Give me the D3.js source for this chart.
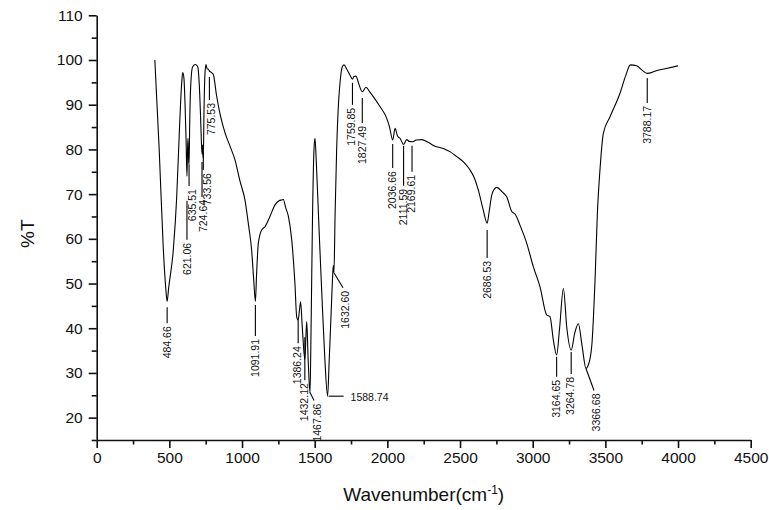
<!DOCTYPE html>
<html>
<head>
<meta charset="utf-8">
<script src="https://cdn.jsdelivr.net/npm/d3@7"></script>
<style>
  html, body { margin: 0; padding: 0; background: #fff; }
  svg { display: block; font-family: "Liberation Sans", Arial, sans-serif; }
</style>
</head>
<body>
<svg id="chart" width="769" height="510"></svg>
<script>
// FTIR transmittance spectrum
const wavenumber = [
  400, 430, 458, 475, 484.66, 495, 527, 550, 570, 585, 592, 600, 608, 615, 621.06, 625, 628, 632, 635.51, 640,
  648, 660, 680, 695, 705, 714, 720, 724.64, 728, 731, 733.56, 738, 745, 752, 760, 767, 775.53, 790, 802, 825,
  848, 883, 920, 952, 985, 1020, 1045, 1066, 1080, 1091.91, 1100, 1112, 1135, 1158, 1192, 1227, 1255, 1273, 1284, 1300,
  1319, 1342, 1364, 1376, 1386.24, 1395, 1403, 1415, 1432.12, 1445, 1455, 1467.86, 1475, 1485, 1495, 1502, 1510, 1530, 1550, 1570,
  1588.74, 1600, 1615, 1624, 1628, 1632.6, 1640, 1651, 1665, 1674, 1690, 1702, 1720, 1743, 1759.85, 1770, 1784, 1800, 1827.49, 1853,
  1880, 1903, 1949, 1995, 2015, 2036.66, 2053, 2070, 2087, 2111.59, 2133, 2150, 2169.61, 2200, 2236, 2280, 2316, 2385, 2430, 2477,
  2530, 2569, 2600, 2626, 2660, 2686.53, 2700, 2720, 2752, 2790, 2821, 2856, 2880, 2913, 2959, 3004, 3050, 3096, 3119, 3142,
  3164.65, 3185, 3211, 3235, 3264.78, 3290, 3314, 3340, 3366.68, 3383, 3406, 3429, 3445, 3463, 3486, 3532, 3600, 3640, 3672, 3716,
  3750, 3788.17, 3850, 3920, 4000
];
const transmittance = [
  100, 80, 58, 49, 46, 49, 57.5, 69, 85, 95, 97.2, 96, 90, 82, 74, 80, 82.5, 78, 76.5, 86,
  95, 98.5, 99, 98.5, 95, 88, 82, 79, 81, 79, 78, 88, 97, 99, 98, 98, 97.5, 97.2, 96.8, 92,
  88, 83.7, 80.5, 77.6, 73, 68.7, 63, 57.5, 51, 46, 52, 59, 62, 62.7, 65, 67.6, 68.5, 68.7, 68.8, 67,
  65, 59.7, 50, 42.6, 41.8, 44, 45.9, 40, 33, 41.5, 33, 25.5, 40, 65, 80, 82.5, 78, 62, 47, 33,
  24.8, 33, 45, 52, 54, 52.5, 65, 80, 91, 94.8, 98.5, 98.9, 98, 96.6, 95.7, 96.3, 96.4, 95, 92.9, 93.9,
  92.8, 91.8, 89.6, 87, 85, 82.1, 84.7, 83, 82.5, 81.1, 82.2, 81.8, 81.7, 82.1, 82.2, 81.6, 80.9, 80.2, 79.5, 78.4,
  77, 75.4, 73.5, 70.9, 66.4, 63.5, 66, 70, 71.5, 70.5, 69.4, 66.1, 65.5, 63, 59, 53.8, 49.3, 43, 42.6, 37.4,
  34, 40, 48.9, 40, 35.1, 39, 41, 36, 31, 31.8, 35.9, 50.8, 65.7, 75.5, 83.6, 87.3, 92.5, 96.5, 98.9, 98.7,
  97.8, 97, 97.6, 98.1, 98.7
];

// Axis ticks
const xTicks = [0, 500, 1000, 1500, 2000, 2500, 3000, 3500, 4000, 4500];
const xMinorTicks = [250, 750, 1250, 1750, 2250, 2750, 3250, 3750, 4250];
const yTicks = [20, 30, 40, 50, 60, 70, 80, 90, 100, 110];
const yMinorTicks = [15, 25, 35, 45, 55, 65, 75, 85, 95, 105];

// Labelled peaks (cm-1)
const peakPositions = [
  484.66, 621.06, 635.51, 724.64, 733.56, 775.53, 1091.91, 1386.24, 1432.12, 1467.86,
  1588.74, 1632.60, 1759.85, 1827.49, 2036.66, 2111.59, 2169.61, 2686.53, 3164.65, 3264.78,
  3366.68, 3788.17
];
// Leader line for each peak label: start level (%T), length (px), text shift (px), style
const peakLayout = [
  { top: 44.7, len: 16, dx: 0 },
  { top: 68.5, len: 39, dx: 0 },
  { top: 76.5, len: 21, dx: 3 },
  { top: 77.2, len: 35, dx: 1 },
  { top: 79.4, len: 18, dx: 4 },
  { top: 96.2, len: 23, dx: 2 },
  { top: 45.2, len: 31, dx: 0 },
  { top: 41.8, len: 23, dx: -1 },
  { top: 38.0, len: 43, dx: -1 },
  { kind: "diag", top: 25.6, ddx: 4, ddy: 8, dx: 3 },
  { kind: "horiz", top: 24.8, len: 15 },
  { kind: "diag", top: 52.4, ddx: 9, ddy: 15, dx: 2 },
  { top: 94.9, len: 22, dx: -1 },
  { top: 91.5, len: 25, dx: 0 },
  { top: 81.2, len: 24, dx: -1 },
  { top: 80.8, len: 40, dx: -1 },
  { top: 80.8, len: 26, dx: -1 },
  { top: 62.0, len: 28, dx: 0 },
  { top: 33.6, len: 20, dx: -1 },
  { top: 34.7, len: 22, dx: -1 },
  { kind: "diag", top: 31.0, ddx: 8, ddy: 22, dx: 2 },
  { top: 96.0, len: 25, dx: 0 }
];

const svg = d3.select("#chart");

const x = d3.scaleLinear().domain([0, 4500]).range([96.7, 750.7]);
const y = d3.scaleLinear().domain([15, 110]).range([440, 15.3]);

// Axes
const axisColor = "#111";
function styleAxis(g) {
  g.selectAll("path.domain").attr("stroke", axisColor).attr("stroke-width", 1.6);
  g.selectAll(".tick line").attr("stroke", axisColor).attr("stroke-width", 1.6);
  g.selectAll(".tick text").attr("fill", "#111").style("font-size", "15.5px")
    .style("font-family", "'Liberation Sans', Arial, sans-serif");
}

const xAxisG = svg.append("g").attr("transform", `translate(0,${y(15)})`)
  .call(d3.axisBottom(x).tickValues(xTicks).tickSize(8).tickSizeOuter(0).tickPadding(4).tickFormat(d3.format("d")));
styleAxis(xAxisG);
const xMinorG = svg.append("g").attr("transform", `translate(0,${y(15)})`)
  .call(d3.axisBottom(x).tickValues(xMinorTicks).tickSize(4.5).tickFormat(""));
xMinorG.select("path.domain").remove();
styleAxis(xMinorG);

const yAxisG = svg.append("g").attr("transform", `translate(${x(0)},0)`)
  .call(d3.axisLeft(y).tickValues(yTicks).tickSize(8).tickSizeOuter(0).tickPadding(6).tickFormat(d3.format("d")));
styleAxis(yAxisG);
const yMinorG = svg.append("g").attr("transform", `translate(${x(0)},0)`)
  .call(d3.axisLeft(y).tickValues(yMinorTicks).tickSize(5).tickFormat(""));
yMinorG.select("path.domain").remove();
styleAxis(yMinorG);

// Axis titles
svg.append("text")
  .attr("transform", `translate(27,${(y(15) + y(110)) / 2 + 6}) rotate(-90)`)
  .attr("text-anchor", "middle")
  .attr("dominant-baseline", "central")
  .style("font-size", "19px").attr("fill", "#111")
  .text("%T");

const xt = svg.append("text")
  .attr("x", (x(0) + x(4500)) / 2)
  .attr("y", 501)
  .attr("text-anchor", "middle")
  .style("font-size", "19px").attr("fill", "#111");
xt.append("tspan").text("Wavenumber(cm");
xt.append("tspan").attr("dy", -7).style("font-size", "12px").text("-1");
xt.append("tspan").attr("dy", 7).text(")");

// Spectrum
const series = wavenumber.map((w, i) => ({ w, t: transmittance[i] }));
svg.append("path")
  .datum(series)
  .attr("fill", "none")
  .attr("stroke", "#000")
  .attr("stroke-width", 1.1)
  .attr("stroke-linejoin", "round")
  .attr("d", d3.line().x(d => x(d.w)).y(d => y(d.t)).curve(d3.curveMonotoneX));

// Peak labels
const fmt = d3.format(".2f");
const ann = svg.append("g").attr("class", "peaks");
peakPositions.forEach((p, i) => {
  const L = peakLayout[i];
  const px = x(p), py = y(L.top);
  const label = fmt(p);
  if (L.kind === "horiz") {
    ann.append("line").attr("x1", px + 1).attr("y1", py).attr("x2", px + 1 + L.len).attr("y2", py)
      .attr("stroke", "#000").attr("stroke-width", 1.1);
    ann.append("text").attr("x", px + L.len + 8).attr("y", py + 1)
      .attr("dominant-baseline", "central")
      .style("font-size", "10.5px").attr("fill", "#111").text(label);
    return;
  }
  let x2, y2;
  if (L.kind === "diag") {
    x2 = px + L.ddx; y2 = py + L.ddy;
  } else {
    x2 = px; y2 = py + L.len;
  }
  ann.append("line").attr("x1", px).attr("y1", py).attr("x2", x2).attr("y2", y2)
    .attr("stroke", "#000").attr("stroke-width", 1.1);
  ann.append("text")
    .attr("transform", `translate(${x2 + L.dx},${y2 + 3}) rotate(-90)`)
    .attr("text-anchor", "end")
    .attr("dominant-baseline", "central")
    .style("font-size", "10.5px").attr("fill", "#111")
    .text(label);
});
</script>
</body>
</html>
